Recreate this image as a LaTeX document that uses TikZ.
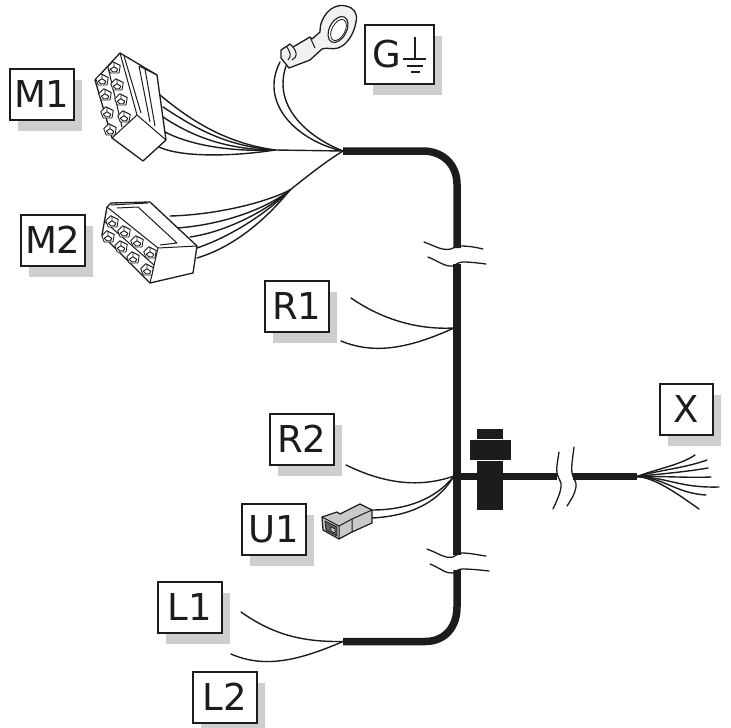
\documentclass[tikz,border=0pt]{standalone}
\usepackage{fontspec}
\setmainfont{DejaVu Sans}
\usetikzlibrary{shadows}
\definecolor{ink}{HTML}{1C1C1E}
\definecolor{shade}{HTML}{CDCED0}
\definecolor{lug}{HTML}{F1F1F1}
\definecolor{plug}{HTML}{C9C9C9}
\tikzset{
  tagbox/.style={draw=ink,line width=1.5pt,fill=white,text=ink,inner sep=0pt,anchor=north west,
    minimum width=64pt,minimum height=51pt,font=\fontsize{37}{37}\selectfont,
    general shadow={shadow xshift=8pt,shadow yshift=-11pt,fill=shade}},
  wire/.style={draw=ink,line width=1.4pt,line cap=round},
  trunk/.style={draw=ink,line width=7.5pt,line join=round},
  breakline/.style={draw=ink,line width=1.3pt,line cap=round},
  housing/.style={draw=ink,line width=1.3pt,fill=white,line join=round},
  detail/.style={draw=ink,line width=1pt,line join=round},
  pinmark/.pic={
    \draw[draw=ink,line width=.9pt,fill=white,line join=round] (-5,-1) -- (-1,-5) -- (5,-2) -- (4,4) -- (-3,4) -- cycle;
    \draw[draw=ink,line width=.9pt,line join=round] (-3,1) -- (0,-1) -- (3,1) (0,-1) -- (0,-4) (-3,1) -- (-1,3) -- (2,3) -- (3,1);
  }
}
\begin{document}
\begin{tikzpicture}[x=1pt,y=-1pt]
\useasboundingbox (0,0) rectangle (731,728);
% junctions
\coordinate (jtop) at (343,151);
\coordinate (jm1) at (275,150);
\coordinate (jm2) at (290,190);
\coordinate (jr1) at (454,328);
\coordinate (jr2) at (454,476);
\coordinate (jbot) at (343,641.5);
\coordinate (jx) at (637,476.5);
% trunk
\draw[trunk] (jtop) -- (423,151) .. controls (443,151) and (457,165) .. (457,184) -- (457,248);
\draw[trunk] (457,264) -- (457,555);
\draw[trunk] (457,570) -- (457,607) .. controls (457,627) and (445,641.5) .. (425,641.5) -- (jbot);
\draw[trunk] (457,476.5) -- (557,476.5);
\draw[trunk] (573,476.5) -- (jx);
% bolt
\fill[ink] (477,429) rectangle (503,439);
\fill[ink] (470,440) rectangle (511,460);
\fill[ink] (477,461) rectangle (503,510);
% breaks
\draw[breakline] (424,242) .. controls (435,246) and (442,251) .. (451,249) .. controls (454,248) and (456,246) .. (460,246) .. controls (468,246) and (475,247) .. (483,249);
\draw[breakline] (428,257) .. controls (438,261) and (445,267) .. (453,266) .. controls (456,265) and (458,262) .. (463,262) .. controls (471,262) and (478,263) .. (486,264);
\draw[breakline] (427,549) .. controls (438,553) and (445,559) .. (453,557) .. controls (456,556) and (458,553) .. (462,553) .. controls (470,553) and (478,555) .. (486,556);
\draw[breakline] (430,564) .. controls (440,568) and (446,574) .. (453,573) .. controls (456,572) and (458,569) .. (462,569) .. controls (471,569) and (480,570) .. (489,571);
\draw[breakline] (559,452) .. controls (558,460) and (556,467) .. (557,473) .. controls (558,479) and (562,481) .. (561,487) .. controls (560,495) and (556,502) .. (553,509);
\draw[breakline] (574,447) .. controls (573,456) and (571,466) .. (572,473) .. controls (573,479) and (577,481) .. (576,487) .. controls (575,494) and (571,500) .. (567,506);
% X fan
\coordinate (xa) at (695,455); \coordinate (xb) at (707,460); \coordinate (xc) at (708,468);
\coordinate (xd) at (711,477); \coordinate (xe) at (719,487); \coordinate (xf) at (706,495); \coordinate (xg) at (699,509);
\draw[wire] (jx) .. controls (660,468) and (680,465) .. (xa);
\draw[wire] (jx) .. controls (660,470) and (685,468) .. (xb);
\draw[wire] (jx) .. controls (660,474) and (685,472) .. (xc);
\draw[wire] (jx) .. controls (660,476) and (690,478) .. (xd);
\draw[wire] (jx) .. controls (670,478) and (680,488) .. (xe);
\draw[wire] (jx) .. controls (665,478) and (675,493) .. (xf);
\draw[wire] (jx) .. controls (655,478) and (675,492) .. (xg);
% R wires
\coordinate (r1a) at (351,298); \coordinate (r1b) at (341,341); \coordinate (r2a) at (346,465);
\draw[wire] (r1a) .. controls (380,318) and (415,330) .. (jr1);
\draw[wire] (r1b) .. controls (375,355) and (410,348) .. (jr1);
\draw[wire] (r2a) .. controls (385,484) and (420,488) .. (jr2);
% U1 wires
\coordinate (u1a) at (372,510); \coordinate (u1b) at (372,518);
\draw[wire] (u1a) .. controls (405,510) and (435,500) .. (jr2);
\draw[wire] (u1b) .. controls (410,516) and (438,503) .. (jr2);
% L wires
\coordinate (l1a) at (241,612); \coordinate (l2a) at (231,654);
\draw[wire] (l1a) .. controls (275,636) and (305,642) .. (jbot);
\draw[wire] (l2a) .. controls (265,669) and (300,660) .. (jbot);
% M1 wires
\draw[wire] (160,95) .. controls (190,120) and (225,143) .. (jm1);
\draw[wire] (163,107) .. controls (195,128) and (225,146) .. (jm1);
\draw[wire] (163,117) .. controls (190,135) and (225,150) .. (jm1);
\draw[wire] (165,132) .. controls (190,145) and (230,152) .. (jm1);
\draw[wire] (159,147) .. controls (180,157) and (230,157) .. (jm1);
\draw[wire] (jm1) -- (jtop);
% M2 wires
\draw[wire] (170,216) .. controls (210,215) and (260,205) .. (jm2);
\draw[wire] (177,228) .. controls (220,225) and (265,210) .. (jm2);
\draw[wire] (190,237) .. controls (225,232) and (265,212) .. (jm2);
\draw[wire] (197,248) .. controls (235,235) and (270,210) .. (jm2);
\draw[wire] (197,258) .. controls (240,245) and (272,212) .. (jm2);
\draw[wire] (jm2) .. controls (305,178) and (325,162) .. (jtop);
% ground wires
\draw[wire] (jtop) .. controls (300,142) and (258,105) .. (280,62);
\draw[wire] (jtop) .. controls (310,138) and (272,108) .. (286,66);
% ring terminal
\draw[draw=ink,line width=1.3pt,fill=lug,line join=round]
  (281,50) -- (290,44) -- (293,47) -- (310,37) -- (312,39) -- (320,32)
  .. controls (320,26) and (321,22) .. (324,17)
  .. controls (329,8) and (338,4) .. (346,6)
  .. controls (354,8) and (358,13) .. (356,22)
  .. controls (354,34) and (347,45) .. (338,48)
  .. controls (332,50) and (327,47) .. (322,49)
  -- (310,60) -- (289,68) -- (281,58) -- cycle;
\draw[draw=ink,line width=1.1pt,fill=white] (338,29.5) ellipse [x radius=14,y radius=8.5,rotate=62];
\draw[draw=ink,line width=.8pt] (338.5,30) ellipse [x radius=11.5,y radius=6.5,rotate=62];
\draw[detail] (310,37) -- (315,48) (293,47) .. controls (297,52) and (298,57) .. (292,60) (287,47) .. controls (290,52) and (292,56) .. (288,60);
% M1 connector
\draw[housing] (95,80) -- (120,53) -- (157,75) -- (166,140) -- (143,161) -- (112,138) -- cycle;
\draw[detail] (120,53) -- (137,115) -- (112,138);
\draw[detail] (137,115) -- (166,140);
\draw[detail] (124,56) -- (141,113);
\draw[detail] (139,66) -- (150,122) (145,69) -- (155,126);
\draw[detail] (139,66) -- (157,75);
\draw[detail] (108,67) -- (122,127);
\foreach \px/\py in {102/80,105/95,107/113,110/130,114/68,117/85,121/100,124/117}
  \pic[scale=1.25] at (\px,\py) {pinmark};
% M2 connector
\draw[housing] (107,207) -- (111,203) -- (150,202) -- (197,246) -- (193,273) -- (150,283) -- (102,235) -- cycle;
\draw[detail] (107,207) -- (158,248) -- (197,246);
\draw[detail] (158,248) -- (150,283);
\draw[detail] (117,208) -- (138,207) -- (177,243) -- (160,245);
\draw[detail] (111,205) -- (148,203);
\draw[detail] (104,221) -- (154,265);
\foreach \px/\py in {112/222,124/232,137/242,150/253,108/237,121/247,133/258,147/270}
  \pic[scale=1.25] at (\px,\py) {pinmark};
% U1 connector
\draw[draw=ink,line width=1.2pt,fill=plug,line join=round] (322,517) -- (337,512) -- (340,514) -- (360,504) -- (372,510) -- (372,523) -- (352,532) -- (339,539) -- (323,530) -- cycle;
\draw[detail] (322,517) -- (339,526) -- (339,539) (339,526) -- (352,519) -- (372,510) (352,519) -- (352,532);
\draw[draw=ink,line width=.8pt,fill=ink!70] (325,521) -- (337,527) -- (337,536) -- (326,530) -- cycle;
\draw[draw=ink,line width=.6pt,fill=plug] (331,527) -- (335,529) -- (335,533) -- (331,531) -- cycle;
% labels
\node[tagbox] (M1) at (9,68) {M1};
\node[tagbox] (M2) at (20,214) {M2};
\node[tagbox] (R1) at (264,280) {R1};
\node[tagbox] (R2) at (269,413) {R2};
\node[tagbox] (U1) at (241,503) {U1};
\node[tagbox] (L1) at (157,581) {L1};
\node[tagbox] (L2) at (192,671) {L2};
\node[tagbox,minimum width=53pt] (X) at (659,383) {X};
\node[tagbox,minimum width=69pt,minimum height=59pt] (G) at (364,24) {\makebox[53pt][l]{G}};
% earth symbol
\draw[draw=ink,line width=1.2pt] (415,37) -- (415,59) (403,59) -- (426,59) (407,66) -- (423,66) (411,72) -- (420,72);
\end{tikzpicture}
\end{document}
